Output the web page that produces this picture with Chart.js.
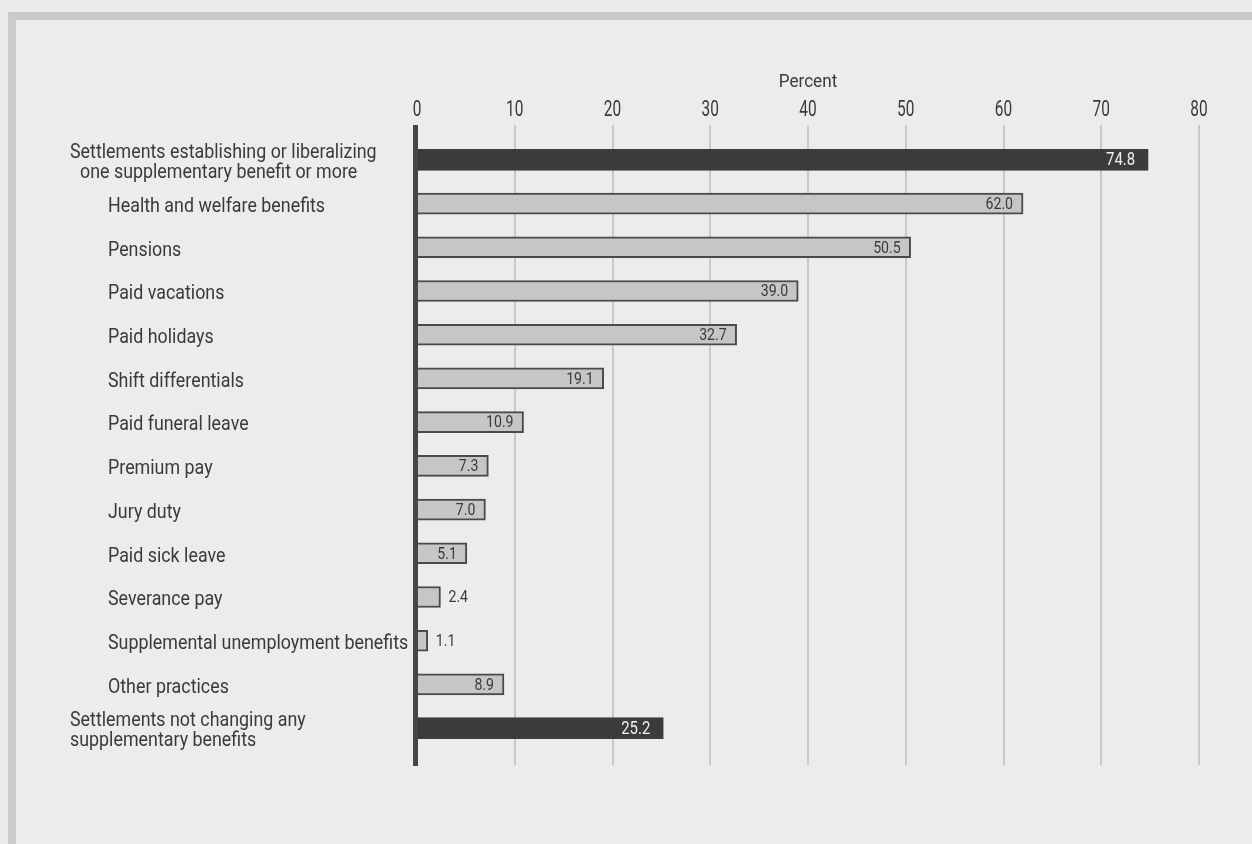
<!DOCTYPE html>
<html>
<head>
<meta charset="utf-8">
<title>Supplementary benefits in settlements</title>
<script src="https://cdn.jsdelivr.net/npm/chart.js@4.4.1/dist/chart.umd.min.js"></script>
<style>
    html, body {
        margin: 0;
        padding: 0;
        background: #ebebeb;
        overflow: hidden;
    }
    #frame {
        position: absolute;
        left: 8px;
        top: 12px;
        width: 1260px;
        height: 850px;
        border-top: 8px solid #c9c9c9;
        border-left: 8px solid #cbcbcb;
        background: #ececec;
    }
    #wrap {
        position: absolute;
        left: 0;
        top: 0;
        width: 1252px;
        height: 844px;
    }
</style>
</head>
<body>
<div id="frame"></div>
<div id="wrap"><canvas id="benefitsChart" width="1252" height="844"></canvas></div>
<script>
// Category labels (multi-line ones split into lines)
const categories = [
    ['Settlements establishing or liberalizing', 'one supplementary benefit or more'],
    ['Health and welfare benefits'],
    ['Pensions'],
    ['Paid vacations'],
    ['Paid holidays'],
    ['Shift differentials'],
    ['Paid funeral leave'],
    ['Premium pay'],
    ['Jury duty'],
    ['Paid sick leave'],
    ['Severance pay'],
    ['Supplemental unemployment benefits'],
    ['Other practices'],
    ['Settlements not changing any', 'supplementary benefits']
];

// Row type: summary rows vs. individual benefits
const rowKinds = ['total', 'item', 'item', 'item', 'item', 'item', 'item',
                  'item', 'item', 'item', 'item', 'item', 'item', 'total'];

// Percent of settlements
const percentValues = [74.8, 62.0, 50.5, 39.0, 32.7, 19.1, 10.9, 7.3, 7.0, 5.1, 2.4, 1.1, 8.9, 25.2];

// Axis ticks
const percentTicks = [0, 10, 20, 30, 40, 50, 60, 70, 80];
const axisTitle = 'Percent';

const FONT = "Roboto, 'Liberation Sans', sans-serif";
const TEXT_COLOR = '#3a3a3a';
const DARK = '#3b3b3b';
const LIGHT = '#c6c6c6';

// Condensed text: draw with a horizontal squeeze
function drawNarrow(ctx, text, x, y, size, squeeze, align) {
    ctx.save();
    ctx.font = size + 'px ' + FONT;
    ctx.textAlign = align || 'left';
    ctx.textBaseline = 'middle';
    ctx.translate(x, y);
    ctx.scale(squeeze, 1);
    ctx.fillText(text, 0, 0);
    ctx.restore();
}

// Vertical grid lines, tick labels and axis title along the top
const gridPlugin = {
    id: 'tallGrid',
    beforeDatasetsDraw(chart) {
        const { ctx, scales: { x } } = chart;
        ctx.save();
        ctx.strokeStyle = '#c9c9c9';
        ctx.lineWidth = 2;
        x.ticks.forEach(t => {
            if (t.value === 0) return;
            const px = Math.round(x.getPixelForValue(t.value));
            ctx.beginPath();
            ctx.moveTo(px, 125);
            ctx.lineTo(px, 765);
            ctx.stroke();
        });
        ctx.fillStyle = TEXT_COLOR;
        x.ticks.forEach(t => {
            drawNarrow(ctx, String(t.value), x.getPixelForValue(t.value), 110, 22, 0.7, 'center');
        });
        drawNarrow(ctx, axisTitle, x.getPixelForValue(40), 82, 18, 0.95, 'center');
        ctx.restore();
    },
    afterDatasetsDraw(chart) {
        const { ctx, scales: { x } } = chart;
        // Zero axis line
        const px = x.getPixelForValue(0);
        ctx.save();
        ctx.fillStyle = '#464646';
        ctx.fillRect(px - 4, 125, 5, 641);
        ctx.restore();
    }
};

// Value labels at the end of each bar
const valueLabelPlugin = {
    id: 'valueLabels',
    afterDatasetsDraw(chart) {
        const { ctx } = chart;
        const meta = chart.getDatasetMeta(0);
        ctx.save();
        meta.data.forEach((bar, i) => {
            const v = percentValues[i];
            const text = v.toFixed(1);
            if (v < 4) {
                ctx.fillStyle = TEXT_COLOR;
                drawNarrow(ctx, text, bar.x + 8, bar.y + 1, 17, 0.83, 'left');
            } else if (rowKinds[i] === 'total') {
                ctx.fillStyle = '#f0f0f0';
                drawNarrow(ctx, text, bar.x - 13, bar.y + 1, 18, 0.83, 'right');
            } else {
                ctx.fillStyle = TEXT_COLOR;
                drawNarrow(ctx, text, bar.x - 10, bar.y + 1, 17, 0.83, 'right');
            }
        });
        ctx.restore();
    }
};

// Row labels on the left, benefits indented under the summary rows
const rowLabelPlugin = {
    id: 'rowLabels',
    afterDraw(chart) {
        const { ctx, scales: { y } } = chart;
        ctx.save();
        ctx.fillStyle = TEXT_COLOR;
        categories.forEach((lines, i) => {
            const cy = y.getPixelForValue(i);
            const isTotal = rowKinds[i] === 'total';
            const lh = 20;
            lines.forEach((line, j) => {
                const ly = cy + (j - (lines.length - 1) / 2) * lh + 3;
                const lx = isTotal ? (i === 0 && j > 0 ? 80 : 70) : 108;
                drawNarrow(ctx, line, lx, ly, 21, 0.85, 'left');
            });
        });
        ctx.restore();
    }
};

document.addEventListener('DOMContentLoaded', () => {
    const ctx = document.getElementById('benefitsChart').getContext('2d');

    new Chart(ctx, {
        type: 'bar',
        data: {
            labels: categories.map(l => l.join(' ')),
            datasets: [{
                data: percentValues,
                backgroundColor: rowKinds.map(k => k === 'total' ? DARK : LIGHT),
                borderColor: rowKinds.map(k => k === 'total' ? DARK : '#4a4a4a'),
                borderWidth: 2,
                borderSkipped: 'start',
                barThickness: 21
            }]
        },
        options: {
            indexAxis: 'y',
            responsive: false,
            animation: false,
            layout: {
                padding: { left: 417, right: 53, top: 60, bottom: 94 }
            },
            scales: {
                x: {
                    position: 'top',
                    min: 0,
                    max: 80,
                    afterBuildTicks: (scale) => {
                        scale.ticks = percentTicks.map(v => ({ value: v }));
                    },
                    afterFit: (scale) => {
                        scale.height = 78;
                    },
                    ticks: { display: false },
                    grid: { display: false },
                    border: { display: false }
                },
                y: {
                    display: false
                }
            },
            plugins: {
                legend: { display: false },
                tooltip: { enabled: false }
            }
        },
        plugins: [gridPlugin, valueLabelPlugin, rowLabelPlugin]
    });
});
</script>
</body>
</html>
